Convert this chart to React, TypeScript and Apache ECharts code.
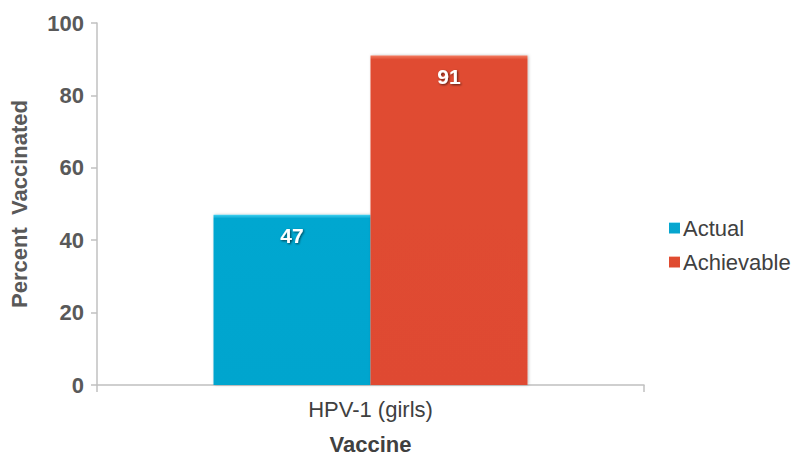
import React, { useEffect, useRef } from "react";
import * as echarts from "echarts";

const categories = ["HPV-1 (girls)"];
const seriesNames = ["Actual", "Achievable"];
const actualValues = [47];
const achievableValues = [91];
const yTicks = [0, 20, 40, 60, 80, 100];

const FONT = "'Liberation Sans', Arial, sans-serif";

export default function App() {
  const ref = useRef<HTMLDivElement>(null);
  useEffect(() => {
    if (!ref.current) return;
    const chart = echarts.init(ref.current, undefined, { renderer: "svg" });
    const label = {
      show: true,
      position: "insideTop",
      distance: 10,
      color: "#ffffff",
      fontFamily: FONT,
      fontWeight: "bold",
      fontSize: 21,
      textShadowColor: "rgba(0,0,0,0.6)",
      textShadowBlur: 2,
      textShadowOffsetX: 1,
      textShadowOffsetY: 1,
    };
    chart.setOption({
      animation: false,
      textStyle: { fontFamily: FONT },
      grid: { left: 97, right: 158, top: 23, bottom: 71 },
      legend: {
        orient: "vertical",
        left: 664,
        top: 212,
        itemWidth: 11,
        itemHeight: 11,
        itemGap: 12,
        icon: "rect",
        textStyle: { fontFamily: FONT, fontSize: 22, color: "#404040", padding: [0, 0, 0, -2] },
        data: seriesNames,
      },
      xAxis: {
        type: "category",
        data: categories,
        name: "Vaccine",
        nameLocation: "middle",
        nameGap: 48,
        nameTextStyle: { fontFamily: FONT, fontSize: 22, fontWeight: "bold", color: "#404040" },
        axisLine: { lineStyle: { color: "#c0c0c0", width: 1.5 } },
        axisTick: { show: true, length: 7, alignWithLabel: false, lineStyle: { color: "#c0c0c0", width: 1.5 } },
        axisLabel: { fontFamily: FONT, fontSize: 22, color: "#404040", margin: 13 },
      },
      yAxis: {
        type: "value",
        min: yTicks[0],
        max: yTicks[yTicks.length - 1],
        interval: 20,
        name: "Percent  Vaccinated",
        nameLocation: "middle",
        nameGap: 67,
        nameTextStyle: { fontFamily: FONT, fontSize: 22, fontWeight: "bold", color: "#595959" },
        axisLine: { show: true, lineStyle: { color: "#c0c0c0", width: 1.5 } },
        axisTick: { show: true, length: 6, inside: false, lineStyle: { color: "#c0c0c0", width: 1.5 } },
        axisLabel: { fontFamily: FONT, fontSize: 22, fontWeight: "bold", color: "#595959", margin: 13 },
        splitLine: { show: false },
      },
      series: [
        {
          name: seriesNames[0],
          type: "bar",
          data: actualValues,
          barGap: "0%",
          barCategoryGap: "42.6%",
          itemStyle: {
            color: new echarts.graphic.LinearGradient(0, 0, 0, 1, [
              { offset: 0, color: "#3fd0f0" },
              { offset: 0.02, color: "#06a7d0" },
              { offset: 1, color: "#05a5ce" },
            ]),
            shadowColor: "rgba(0,0,0,0.25)",
            shadowBlur: 3,
            shadowOffsetX: 1,
          },
          label,
        },
        {
          name: seriesNames[1],
          type: "bar",
          data: achievableValues,
          itemStyle: {
            color: new echarts.graphic.LinearGradient(0, 0, 0, 1, [
              { offset: 0, color: "#f27a5f" },
              { offset: 0.012, color: "#e04c31" },
              { offset: 1, color: "#df4a30" },
            ]),
            shadowColor: "rgba(0,0,0,0.25)",
            shadowBlur: 3,
            shadowOffsetX: 1,
          },
          label,
        },
      ],
    });
    return () => chart.dispose();
  }, []);
  return <div ref={ref} style={{ width: 802, height: 460, position: "absolute", left: 0, top: 0 }} />;
}
